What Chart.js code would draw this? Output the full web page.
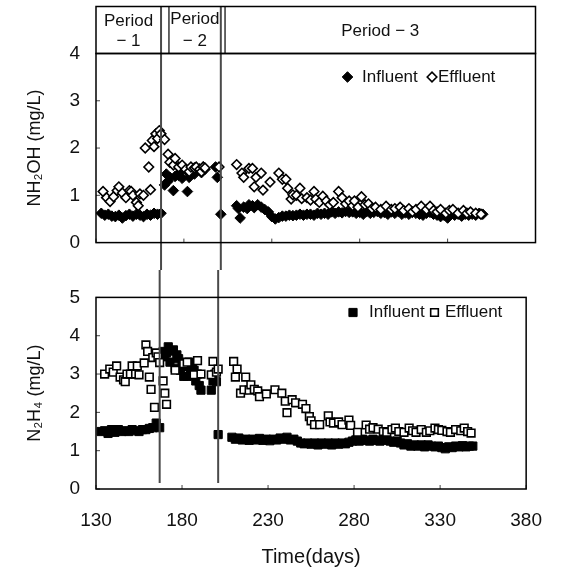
<!DOCTYPE html>
<html>
<head>
<meta charset="utf-8">
<script src="https://cdn.jsdelivr.net/npm/chart.js@4"></script>
<style>
  body { margin: 0; background: #fff; }
  #wrap { position: relative; width: 562px; height: 569px; }
  canvas { position: absolute; left: 0; }
</style>
</head>
<body>
<div id="wrap">
  <canvas id="topChart" width="562" height="270" style="top:0"></canvas>
  <canvas id="bottomChart" width="562" height="299" style="top:270px"></canvas>
</div>
<script>
// Days where the operation period changes, and the second stroke of the double rules in the header
const periodLines = [167, 201];
const headerLines = [171.5, 203.4];
const periodLabels = [["Period", "− 1"], ["Period", "− 2"], ["Period − 3"]];

// NH2OH influent
const nhInDays = [133,135,137,139,141,143,145,147,149,151,153,155,157,159,161,163,165,167,
  169,170,171,172,174,175,177,178,179,181,182,183,185,186,187,189,190,191,192,198,199,201,
  210,211,212,214,216,217,219,220,222,224,226,228,
  230,232,234,236,238,240,242,244,246,248,250,252,254,256,258,260,262,264,266,268,
  270,272,274,276,278,280,282,284,286,288,290,292,294,296,298,300,302,304,306,308,
  310,312,314,316,318,320,322,324,326,328,330,332,334,336,338,340,342,344,346,348,350];
const nhInValues = [0.62,0.58,0.6,0.56,0.55,0.58,0.52,0.57,0.6,0.56,0.6,0.58,0.55,0.6,0.58,0.62,0.6,0.62,
  1.22,1.45,1.3,1.38,1.1,1.4,1.42,1.5,1.36,1.54,1.08,1.38,1.5,1.45,1.57,1.56,1.48,1.6,1.55,1.6,1.38,0.6,
  0.78,0.72,0.52,0.75,0.72,0.8,0.78,0.74,0.8,0.75,0.7,0.65,
  0.55,0.5,0.53,0.56,0.56,0.58,0.57,0.58,0.6,0.58,0.6,0.6,0.58,0.62,0.6,0.62,0.6,0.65,0.62,0.65,
  0.63,0.66,0.64,0.65,0.62,0.64,0.6,0.66,0.62,0.64,0.66,0.62,0.64,0.6,0.65,0.62,0.66,0.6,0.63,0.6,
  0.64,0.62,0.6,0.58,0.62,0.64,0.6,0.58,0.55,0.58,0.52,0.6,0.58,0.6,0.56,0.6,0.58,0.6,0.58,0.62,0.6];

// NH2OH effluent
const nhEffDays = [134,136,138,140,142,143,145,147,149,150,151,153,154,155,157,158,160,161,162,163,164,165,166,167,169,
  171,172,174,175,177,179,181,183,184,186,187,189,190,191,192,200,
  210,213,214,217,219,220,221,224,225,229,234,236,238,239,241,242,244,246,247,250,
  252,254,255,257,259,261,263,265,268,270,272,274,276,277,279,281,283,285,287,289,
  292,295,298,300,303,305,308,310,312,315,318,320,322,324,326,329,331,333,336,339,
  341,343,346,349];
const nhEffValues = [1.08,0.95,0.87,0.97,1.1,1.18,1.05,0.95,1.1,1.08,1.0,0.85,0.78,1.03,1.0,2.0,1.6,1.12,2.16,2.03,2.3,2.2,2.37,2.3,2.18,
  1.87,1.7,1.64,1.78,1.6,1.64,1.55,1.5,1.6,1.58,1.6,1.55,1.5,1.6,1.58,1.6,
  1.65,1.47,1.38,1.57,1.57,1.18,1.38,1.47,1.11,1.28,1.47,1.34,1.34,1.15,0.92,1.01,1.0,1.15,0.93,0.95,
  0.9,1.08,0.92,0.85,0.98,0.88,0.8,0.85,1.08,0.95,0.82,0.88,0.78,0.88,0.75,0.97,0.8,0.82,0.72,0.75,
  0.7,0.77,0.7,0.72,0.75,0.68,0.72,0.65,0.7,0.77,0.7,0.77,0.68,0.65,0.7,0.62,0.68,0.7,0.62,0.68,
  0.62,0.65,0.62,0.6];

// N2H4 influent
const n2InDays = [133,135,137,139,141,143,145,147,149,151,153,155,157,159,161,163,165,167,
  169,170,171,172,173,174,175,176,177,178,179,180,181,182,183,184,185,186,187,188,189,190,191,197,198,199,200,201,
  209,211,213,215,217,219,221,223,225,227,229,231,233,235,237,239,241,243,245,247,
  249,251,253,255,257,259,261,263,265,267,269,271,273,275,277,279,281,283,285,287,
  289,291,293,295,297,299,301,303,305,307,309,311,313,315,317,319,321,323,325,327,
  329,331,333,335,337,339,341,343,345,347,349];
const n2InValues = [1.5,1.52,1.45,1.55,1.48,1.55,1.5,1.52,1.5,1.55,1.52,1.5,1.55,1.55,1.58,1.6,1.72,1.6,
  3.59,3.45,3.55,3.71,3.31,3.6,3.63,3.15,3.5,3.4,3.1,3.3,2.94,3.2,2.94,3.31,3.0,3.19,3.1,2.82,3.0,2.7,2.58,2.58,2.82,3.0,2.8,1.42,
  1.35,1.3,1.33,1.28,1.3,1.27,1.3,1.28,1.32,1.27,1.3,1.26,1.3,1.28,1.33,1.3,1.35,1.28,1.3,1.25,
  1.2,1.18,1.2,1.17,1.2,1.15,1.2,1.17,1.2,1.15,1.2,1.17,1.2,1.18,1.22,1.25,1.28,1.25,1.3,1.27,
  1.25,1.3,1.27,1.25,1.3,1.27,1.25,1.22,1.25,1.2,1.15,1.18,1.12,1.15,1.12,1.15,1.1,1.15,1.12,1.1,
  1.12,1.08,1.05,1.1,1.08,1.12,1.1,1.13,1.1,1.12,1.12];

// N2H4 effluent
const n2EffDays = [135,138,140,142,144,146,147,148,150,151,153,154,155,158,159,160,161,162,163,164,165,166,167,169,170,171,
  176,181,183,187,189,191,197,198,200,201,
  210,211,212,214,216,217,219,220,222,224,225,229,234,238,240,241,244,246,250,252,
  254,255,257,260,265,266,268,271,273,277,278,282,287,289,291,294,297,299,302,304,
  306,309,312,314,316,319,322,324,327,329,331,334,336,339,342,344,346,348];
const n2EffValues = [3.0,3.13,3.05,3.21,2.92,2.85,2.8,3.0,3.0,3.21,3.0,3.21,2.98,3.29,3.76,3.59,2.92,2.6,3.43,2.13,3.55,3.45,3.3,2.82,2.5,2.21,
  3.1,3.27,3.31,2.98,3.35,3.0,2.98,3.33,3.05,3.13,
  3.33,2.92,3.13,2.5,2.59,2.92,2.58,2.72,2.6,2.56,2.41,2.48,2.59,2.5,2.29,1.99,2.33,2.25,2.21,2.1,
  1.89,1.78,1.68,1.68,1.91,1.75,1.72,1.75,1.68,1.8,1.66,1.48,1.67,1.56,1.6,1.56,1.5,1.48,1.55,1.59,
  1.5,1.48,1.59,1.52,1.48,1.55,1.48,1.52,1.59,1.55,1.53,1.5,1.48,1.55,1.52,1.59,1.5,1.46];

const FONT = "'Liberation Sans', Arial, sans-serif";
const INK = "#111";

function toPoints(days, values) {
  return days.map((d, i) => ({ x: d, y: values[i] }));
}

// frame, inward tick marks and the period change lines
const framePlugin = {
  id: "frame",
  afterDatasetsDraw(chart, args, opts) {
    const { ctx, chartArea: a, scales: { x, y } } = chart;
    ctx.save();
    ctx.strokeStyle = "#4a4a4a";
    ctx.lineWidth = 2;
    periodLines.forEach((d) => {
      const px = x.getPixelForValue(d);
      ctx.beginPath();
      ctx.moveTo(px, opts.lineTop);
      ctx.lineTo(px, opts.lineBottom);
      ctx.stroke();
    });
    ctx.strokeStyle = "#444";
    ctx.lineWidth = 1;
    y.ticks.forEach((t) => {
      const py = y.getPixelForValue(t.value);
      ctx.beginPath();
      ctx.moveTo(a.left, py);
      ctx.lineTo(a.left + 4, py);
      ctx.stroke();
    });
    x.ticks.forEach((t) => {
      const px = x.getPixelForValue(t.value);
      ctx.beginPath();
      ctx.moveTo(px, a.bottom);
      ctx.lineTo(px, a.bottom - 4);
      ctx.stroke();
    });
    ctx.strokeStyle = "#000";
    ctx.lineWidth = 1.5;
    ctx.strokeRect(a.left, a.top, a.width, a.height);
    ctx.restore();
  },
};

// the "Period" band above the top panel
const headerPlugin = {
  id: "header",
  afterDraw(chart, args, opts) {
    if (!opts.top && opts.top !== 0) return;
    const { ctx, chartArea: a, scales: { x } } = chart;
    ctx.save();
    ctx.strokeStyle = "#000";
    ctx.lineWidth = 1.5;
    ctx.strokeRect(a.left, opts.top, a.width, a.top - opts.top);
    ctx.lineWidth = 1.2;
    headerLines.forEach((d) => {
      const px = x.getPixelForValue(d);
      ctx.beginPath();
      ctx.moveTo(px, opts.top);
      ctx.lineTo(px, a.top);
      ctx.stroke();
    });
    const p1 = x.getPixelForValue(periodLines[0]);
    const h1 = x.getPixelForValue(headerLines[0]);
    const p2 = x.getPixelForValue(periodLines[1]);
    const h2 = x.getPixelForValue(headerLines[1]);
    const cells = [[a.left, p1], [h1, p2], [h2, a.right]];
    ctx.fillStyle = INK;
    ctx.font = "17px " + FONT;
    ctx.textAlign = "center";
    ctx.textBaseline = "middle";
    periodLabels.forEach((lines, i) => {
      const cx = (cells[i][0] + cells[i][1]) / 2;
      if (lines.length === 2) {
        ctx.fillText(lines[0], cx, i === 0 ? 21 : 19);
        ctx.fillText(lines[1], cx, 41);
      } else {
        ctx.fillText(lines[0], cx, 31);
      }
    });
    ctx.restore();
  },
};

// legend written inside the plot, markers taken from the datasets
const markerLegend = {
  id: "markerLegend",
  afterDraw(chart, args, opts) {
    const ctx = chart.ctx;
    ctx.save();
    ctx.font = "17px " + FONT;
    ctx.textBaseline = "middle";
    ctx.textAlign = "left";
    chart.data.datasets.forEach((ds, i) => {
      const item = opts.items[i];
      ctx.fillStyle = ds.backgroundColor;
      ctx.strokeStyle = ds.borderColor;
      ctx.lineWidth = ds.borderWidth;
      Chart.helpers.drawPoint(ctx, {
        pointStyle: ds.pointStyle,
        radius: ds.pointRadius,
        borderWidth: ds.borderWidth,
        rotation: 0,
      }, item.marker, opts.y);
      ctx.fillStyle = INK;
      ctx.fillText(ds.label, item.text, opts.y);
    });
    ctx.restore();
  },
};

function yAxis(max, title) {
  return {
    min: 0,
    max: max,
    ticks: { stepSize: 1, color: INK, font: { family: FONT, size: 19 }, padding: 16 },
    grid: { display: false, drawTicks: false },
    border: { display: false },
    title: {
      display: true,
      text: title,
      color: INK,
      font: { family: FONT, size: 18 },
      padding: { top: 24, bottom: 0 },
    },
    afterFit(scale) { scale.width = 96; },
  };
}

function datasets(style, inPts, effPts) {
  return [
    {
      label: "Influent",
      data: inPts,
      pointStyle: style,
      pointRadius: style === "rect" ? 5.8 : 5.3,
      backgroundColor: "#000",
      borderColor: "#000",
      borderWidth: 1,
      order: 1,
    },
    {
      label: "Effluent",
      data: effPts,
      pointStyle: style,
      pointRadius: style === "rect" ? 5.4 : 4.8,
      backgroundColor: "#fff",
      borderColor: "#000",
      borderWidth: 1.6,
      order: 0,
    },
  ];
}

const common = {
  responsive: false,
  animation: false,
  devicePixelRatio: 1,
  events: [],
};

// NH2OH panel with period header
new Chart(document.getElementById("topChart"), {
  type: "scatter",
  data: { datasets: datasets("rectRot", toPoints(nhInDays, nhInValues), toPoints(nhEffDays, nhEffValues)) },
  options: {
    ...common,
    layout: { autoPadding: false, padding: { left: 0, right: 26.5, top: 53.5, bottom: 13.5 } },
    scales: {
      x: { type: "linear", min: 130, max: 380, ticks: { stepSize: 50 }, display: false },
      y: yAxis(4, "NH₂OH (mg/L)"),
    },
    plugins: {
      legend: { display: false },
      tooltip: { enabled: false },
      frame: { lineTop: 6.5, lineBottom: 270 },
      header: { top: 6.5 },
      markerLegend: { y: 77, items: [{ marker: 347.5, text: 362 }, { marker: 432, text: 438 }] },
    },
  },
  plugins: [framePlugin, headerPlugin, markerLegend],
});

// N2H4 panel with the time axis
new Chart(document.getElementById("bottomChart"), {
  type: "scatter",
  data: { datasets: datasets("rect", toPoints(n2InDays, n2InValues), toPoints(n2EffDays, n2EffValues)) },
  options: {
    ...common,
    layout: { autoPadding: false, padding: { left: 0, right: 26.5, top: 14, bottom: 0 } },
    scales: {
      x: {
        type: "linear",
        min: 130,
        max: 380,
        ticks: { stepSize: 50, color: INK, font: { family: FONT, size: 19 }, padding: 20 },
        grid: { display: false, drawTicks: false },
        border: { display: false },
        title: {
          display: true,
          text: "Time(days)",
          color: INK,
          font: { family: FONT, size: 20 },
          padding: { top: 0, bottom: 0 },
        },
        afterFit(scale) { scale.height = 80; },
      },
      y: yAxis(5, "N₂H₄ (mg/L)"),
    },
    plugins: {
      legend: { display: false },
      tooltip: { enabled: false },
      frame: { lineTop: 0, lineBottom: 213 },
      markerLegend: { y: 42.5, items: [{ marker: 353, text: 369 }, { marker: 434.5, text: 445 }] },
    },
  },
  plugins: [framePlugin, markerLegend],
});
</script>
</body>
</html>
